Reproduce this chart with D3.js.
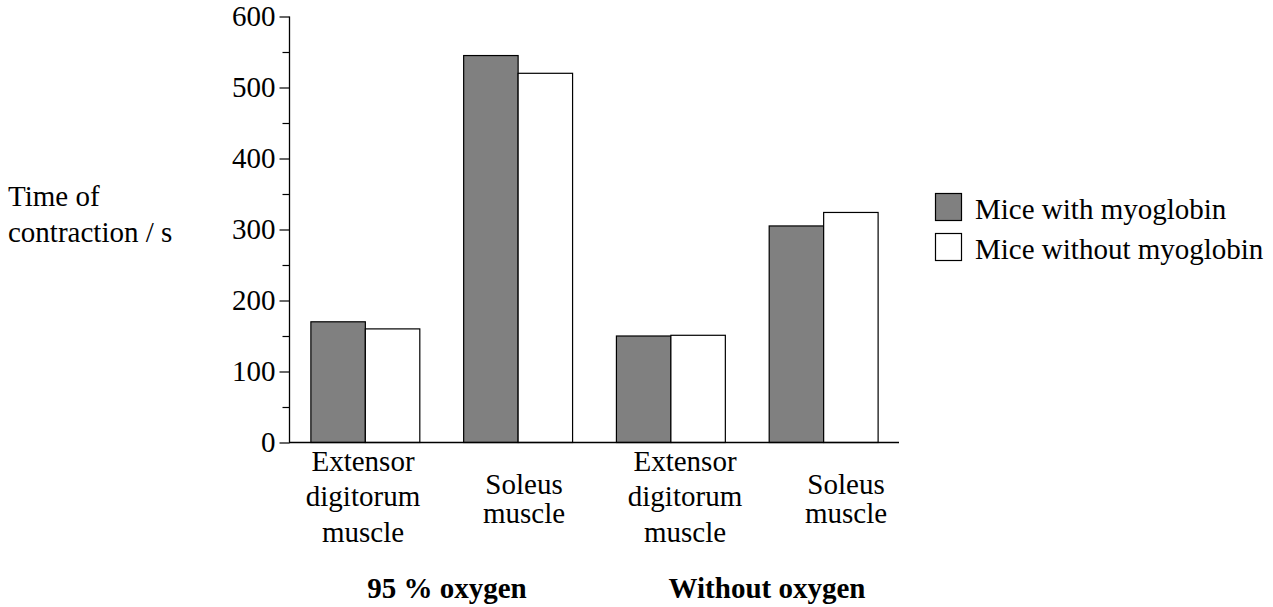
<!DOCTYPE html>
<html>
<head>
<meta charset="utf-8">
<script src="https://cdn.jsdelivr.net/npm/d3@7"></script>
<style>
  html, body { margin: 0; padding: 0; background: #fff; }
  svg { display: block; }
  text { font-family: "Liberation Serif", "Times New Roman", serif; fill: #000; }
</style>
</head>
<body>
<svg id="chart" width="1273" height="607"></svg>
<script>
// Contraction time of mouse muscles, by oxygen condition and myoglobin presence
const conditions = ["95 % oxygen", "Without oxygen"];
const muscles = ["Extensor digitorum muscle", "Soleus muscle"];
const muscleLabelLines = [["Extensor", "digitorum", "muscle"], ["Soleus", "muscle"]];
const series = ["Mice with myoglobin", "Mice without myoglobin"];
const withMyoglobin = [170, 545, 150, 305];
const withoutMyoglobin = [160, 520, 151, 324];
const yTicks = [0, 100, 200, 300, 400, 500, 600];
const yMinorTicks = [50, 150, 250, 350, 450, 550];
const yTitleLines = ["Time of", "contraction / s"];

// one bar group per (condition, muscle) pair
const groups = [];
conditions.forEach((c, ci) => muscles.forEach((m, mi) => {
  const i = ci * muscles.length + mi;
  groups.push({ id: c + "|" + m, condition: c, muscle: mi, values: [withMyoglobin[i], withoutMyoglobin[i]] });
}));

const fills = ["#808080", "#ffffff"];
const fontSize = 29;

const svg = d3.select("#chart");

const x = d3.scaleBand()
  .domain(groups.map(g => g.id))
  .range([289, 899])
  .paddingInner(0.287)
  .paddingOuter(0.14);

const xSub = d3.scaleBand()
  .domain(series)
  .range([0, x.bandwidth()]);

const y = d3.scaleLinear().domain([0, 600]).range([442, 16]);

// muscle labels sit under each group, condition labels under each pair
const xLabel = d3.scalePoint().domain(groups.map(g => g.id)).range([363, 846]);
const xCond = d3.scalePoint().domain(conditions).range([447, 767]);

// bars
const g = svg.append("g");
groups.forEach(grp => {
  g.selectAll(null)
    .data(grp.values.map((v, si) => ({ v, s: series[si], si })))
    .enter().append("rect")
    .attr("x", d => x(grp.id) + xSub(d.s) + 0.5)
    .attr("y", d => y(d.v) + 0.5)
    .attr("width", xSub.bandwidth())
    .attr("height", d => y(0) - y(d.v))
    .attr("fill", d => fills[d.si])
    .attr("stroke", "#000")
    .attr("stroke-width", 1.2);
});

// y axis with major and minor ticks
const yAxis = d3.axisLeft(y).tickValues(yTicks).tickSize(10).tickPadding(4);
const yAxisG = svg.append("g").attr("transform", "translate(289.5,0.5)").call(yAxis);
yAxisG.select(".domain").attr("d", `M0,${y(600)}V${y(0)}`).attr("stroke", "#000").attr("stroke-width", 1.3);
yAxisG.selectAll(".tick line").attr("stroke", "#000").attr("stroke-width", 1.2);
yAxisG.selectAll(".tick text").attr("font-size", fontSize).attr("font-family", "Liberation Serif").attr("fill", "#000");

const yMinor = d3.axisLeft(y).tickValues(yMinorTicks).tickSize(7).tickFormat("");
const yMinorG = svg.append("g").attr("transform", "translate(289.5,0.5)").call(yMinor);
yMinorG.select(".domain").remove();
yMinorG.selectAll(".tick line").attr("stroke", "#000").attr("stroke-width", 1.2);

// x axis baseline
svg.append("line")
  .attr("x1", 289).attr("x2", 899)
  .attr("y1", y(0) + 0.5).attr("y2", y(0) + 0.5)
  .attr("stroke", "#000").attr("stroke-width", 1.3);

// muscle labels
groups.forEach(grp => {
  const lines = muscleLabelLines[grp.muscle];
  const lh = lines.length === 3 ? 35.3 : 29;
  const firstBaseline = lines.length === 3 ? 471 : 493.5;
  const t = svg.append("text")
    .attr("text-anchor", "middle")
    .attr("font-size", fontSize);
  lines.forEach((ln, li) => {
    t.append("tspan")
      .attr("x", xLabel(grp.id))
      .attr("y", firstBaseline + li * lh)
      .text(ln);
  });
});

// condition labels
svg.selectAll(null)
  .data(conditions)
  .enter().append("text")
  .attr("x", d => xCond(d))
  .attr("y", 598)
  .attr("text-anchor", "middle")
  .attr("font-size", fontSize)
  .attr("font-weight", "bold")
  .text(d => d);

// y title
const yt = svg.append("text").attr("font-size", fontSize);
yTitleLines.forEach((ln, i) => {
  yt.append("tspan").attr("x", 8).attr("y", 206 + i * 35.5).text(ln);
});

// legend
const legend = svg.append("g");
series.forEach((s, i) => {
  legend.append("rect")
    .attr("x", 935.5).attr("y", 193.5 + i * 40)
    .attr("width", 26).attr("height", 27)
    .attr("fill", fills[i])
    .attr("stroke", "#000").attr("stroke-width", 1.2);
  legend.append("text")
    .attr("x", 975).attr("y", 219 + i * 40)
    .attr("font-size", fontSize)
    .text(s);
});
</script>
</body>
</html>
